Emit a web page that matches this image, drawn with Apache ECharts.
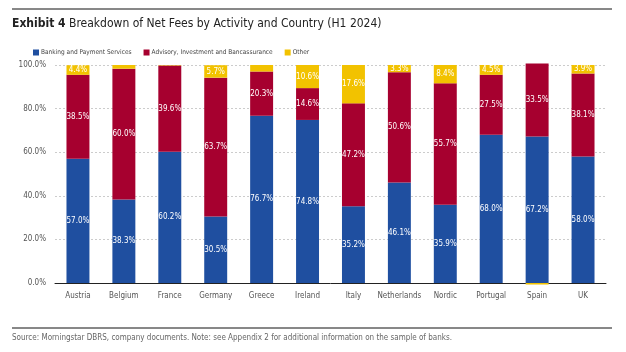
<!DOCTYPE html>
<html>
<head>
<meta charset="utf-8">
<script src="https://cdn.jsdelivr.net/npm/echarts@6/dist/echarts.min.js"></script>
<style>
  html, body { margin: 0; padding: 0; background: #fff; }
  #main { width: 626px; height: 352px; }
</style>
</head>
<body>
<div id="main"></div>
<script>
var chart = echarts.init(document.getElementById('main'));

var countries = ['Austria', 'Belgium', 'France', 'Germany', 'Greece', 'Ireland', 'Italy', 'Netherlands', 'Nordic', 'Portugal', 'Spain', 'UK'];
var banking = [57.0, 38.3, 60.2, 30.5, 76.7, 74.8, 35.2, 46.1, 35.9, 68.0, 67.2, 58.0];
var advisory = [38.5, 60.0, 39.6, 63.7, 20.3, 14.6, 47.2, 50.6, 55.7, 27.5, 33.5, 38.1];
var other = [4.4, 1.7, 0.2, 5.7, 3.0, 10.6, 17.6, 3.3, 8.4, 4.5, -0.7, 3.9];
var seriesNames = ['Banking and Payment Services', 'Advisory, Investment and Bancassurance', 'Other'];

var colors = ['#1F4FA0', '#A6002F', '#F2C200'];
var font = '"DejaVu Sans Condensed", "Liberation Sans", sans-serif';

function barLabel(p) {
    // small slices carry no label in the original
    if (Math.abs(p.value) < 3.2) return '';
    return p.value.toFixed(1) + '%';
}

function makeSeries(name, values, color) {
    return {
        name: name,
        type: 'bar',
        stack: 'total',
        barWidth: '50%',
        clip: false,
        data: values,
        itemStyle: { color: color },
        label: {
            show: true,
            position: 'inside',
            formatter: barLabel,
            color: '#fff',
            fontSize: 8,
            fontFamily: font
        }
    };
}

var option = {
    backgroundColor: '#fff',
    animation: false,
    textStyle: { fontFamily: font },
    title: {
        left: 7,
        top: 13,
        text: '{b|Exhibit 4} Breakdown of Net Fees by Activity and Country (H1 2024)',
        textStyle: {
            fontSize: 12,
            fontWeight: 'normal',
            color: '#222',
            fontFamily: font,
            rich: {
                b: { fontSize: 12, fontWeight: 'bold', color: '#222', fontFamily: font }
            }
        }
    },
    legend: {
        left: 28,
        top: 44,
        itemWidth: 6,
        itemHeight: 6,
        itemGap: 12,
        icon: 'rect',
        textStyle: { fontSize: 6.5, color: '#444', fontFamily: font, padding: [0, 0, 0, -3] },
        data: seriesNames
    },
    grid: { left: 55, right: 20, top: 65, bottom: 69 },
    xAxis: {
        type: 'category',
        data: countries,
        axisLine: { lineStyle: { color: '#222', width: 1 } },
        axisTick: { show: false },
        axisLabel: { interval: 0, color: '#555', fontSize: 8, margin: 9, fontFamily: font }
    },
    yAxis: {
        type: 'value',
        min: 0,
        max: 100,
        interval: 20,
        axisLine: { show: false },
        axisTick: { show: false },
        axisLabel: {
            color: '#555', fontSize: 8, margin: 9, fontFamily: font,
            formatter: function (v) { return v.toFixed(1) + '%'; }
        },
        splitLine: { lineStyle: { color: '#ccc', type: [2, 2] } }
    },
    graphic: [
        { type: 'line', shape: { x1: 12, y1: 9, x2: 612, y2: 9 }, style: { stroke: '#111', lineWidth: 1 } },
        { type: 'line', shape: { x1: 12, y1: 328, x2: 612, y2: 328 }, style: { stroke: '#111', lineWidth: 1 } },
        {
            type: 'text', left: 12, top: 334,
            style: {
                text: 'Source: Morningstar DBRS, company documents. Note: see Appendix 2 for additional information on the sample of banks.',
                fill: '#666', fontSize: 8, fontFamily: font
            }
        }
    ],
    series: [
        makeSeries(seriesNames[0], banking, colors[0]),
        makeSeries(seriesNames[1], advisory, colors[1]),
        makeSeries(seriesNames[2], other, colors[2])
    ]
};

chart.setOption(option);
</script>
</body>
</html>
